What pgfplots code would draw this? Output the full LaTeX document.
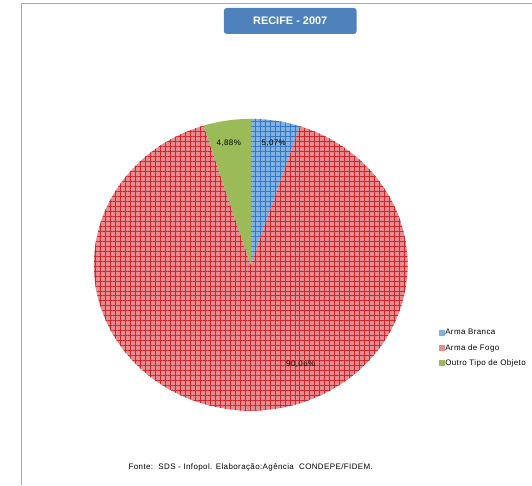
\documentclass[border=0pt]{standalone}
\usepackage{fontspec}
\setmainfont{Liberation Sans}
\usepackage{pgfplots}
\pgfplotsset{compat=1.18}
\usetikzlibrary{patterns.meta}
\definecolor{bluefill}{HTML}{80B2E2}
\definecolor{blueline}{HTML}{3674C4}
\definecolor{redfill}{HTML}{E48C8F}
\definecolor{redline}{HTML}{CF262C}
\definecolor{greenfill}{HTML}{9BBB59}
\definecolor{titlebox}{HTML}{4F81BD}
\definecolor{frame}{HTML}{ABABAB}
\newcommand{\sfont}{\fontsize{8}{9}\selectfont\addfontfeature{LetterSpace=5}}
\begin{document}
\begin{tikzpicture}
\begin{axis}[scale only axis, width=532bp, height=486bp,
  xmin=0, xmax=532, ymin=0, ymax=486, hide axis, clip=false,
  legend style={at={(axis cs:438,158)}, anchor=north west, draw=none, fill=none,
    font=\sfont, row sep=7bp, inner sep=1bp,
    nodes={inner sep=0.5bp}},
  legend cell align=left,
  legend image code/.code={\fill[#1, draw=none] (0bp,-3bp) rectangle (6bp,3bp);}]
\path (axis cs:0,0) (axis cs:532,486);
\addlegendimage{fill=bluefill}
\addlegendentry{Arma Branca}
\addlegendimage{fill=redfill}
\addlegendentry{Arma de Fogo}
\addlegendimage{fill=greenfill}
\addlegendentry{Outro Tipo de Objeto}
% values (percent): Arma Branca 5.07, Arma de Fogo 90.06, Outro 4.88
\pgfmathsetmacro{\aA}{90}
\pgfmathsetmacro{\aB}{90-5.07*3.6}
\pgfmathsetmacro{\aC}{\aB-90.06*3.6}
\pgfmathsetmacro{\aD}{\aC-4.88*3.6}
\coordinate (C) at (axis cs:251,221);
\def\sector#1#2{(C) -- ++({157bp*cos(#1)},{146bp*sin(#1)}) arc[start angle=#1, end angle=#2, x radius=157bp, y radius=146bp] -- cycle}
% Arma Branca
\fill[bluefill] \sector{\aA}{\aB};
\fill[pattern={Lines[distance=5bp, angle=0, line width=0.45bp]}, pattern color=blueline] \sector{\aA}{\aB};
\fill[pattern={Lines[distance=5bp, angle=90, line width=0.45bp]}, pattern color=blueline] \sector{\aA}{\aB};
% Arma de Fogo
\fill[redfill] \sector{\aB}{\aC};
\fill[pattern={Lines[distance=5bp, angle=0, line width=0.45bp]}, pattern color=redline] \sector{\aB}{\aC};
\fill[pattern={Lines[distance=5bp, angle=90, line width=0.45bp]}, pattern color=redline] \sector{\aB}{\aC};
% Outro
\fill[greenfill] \sector{\aC}{\aD};
% labels
\node[font=\sfont] at (axis cs:274,343) {5,07\%};
\node[font=\sfont] at (axis cs:229,343) {4,88\%};
\node[font=\sfont] at (axis cs:301,121) {90,06\%};
% title
\node[fill=titlebox, rounded corners=3bp, minimum width=133bp, minimum height=26bp,
  text=white, font=\bfseries\fontsize{11}{13}\selectfont] at (axis cs:290.5,465) {RECIFE - 2007};
% footer
\node[font=\sfont] at (axis cs:251,18) {Fonte:\ \ SDS - Infopol. Elaboração:Agência\ \ CONDEPE/FIDEM.};
% frame
\draw[frame, line width=1bp] (axis cs:21.5,1) -- (axis cs:21.5,482.5) -- (axis cs:532,482.5);
\end{axis}
\end{tikzpicture}
\end{document}
